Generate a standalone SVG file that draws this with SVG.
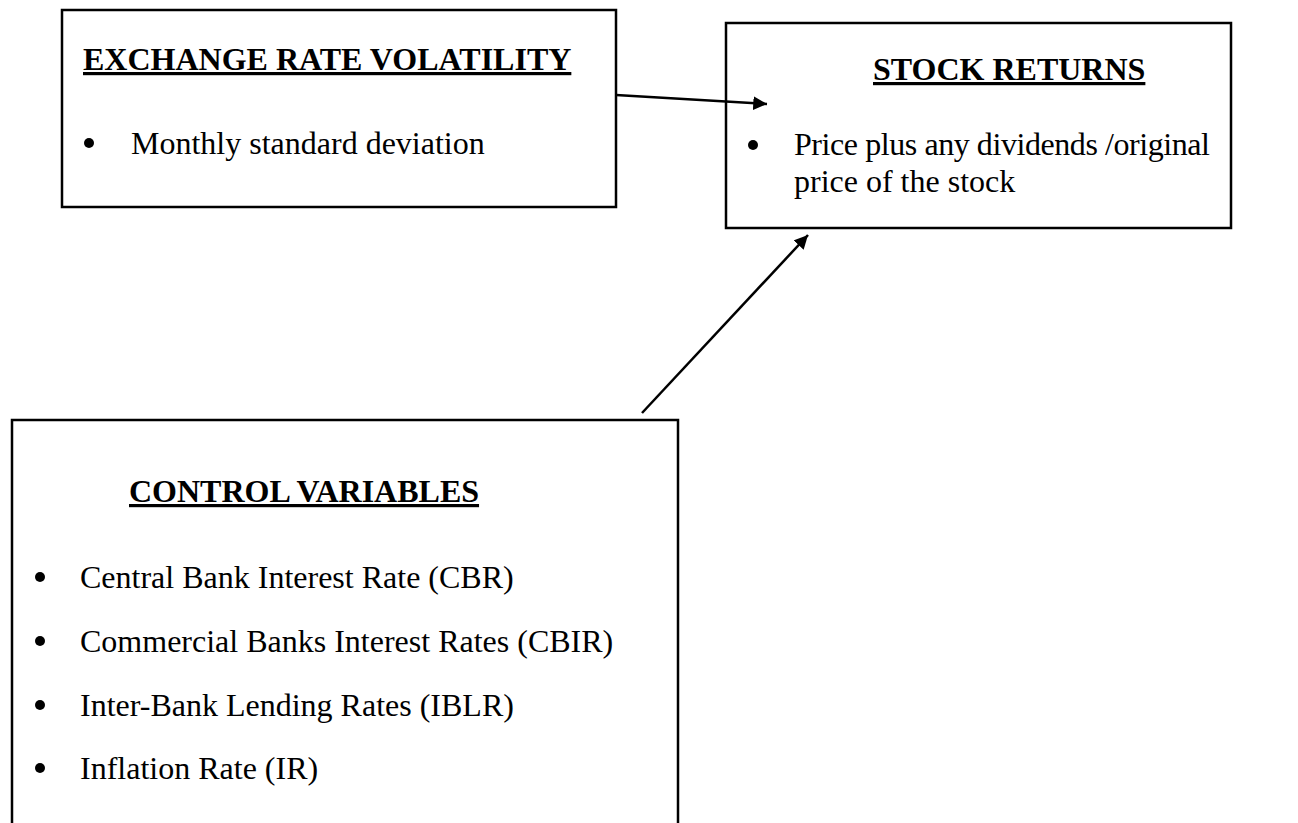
<svg xmlns="http://www.w3.org/2000/svg" width="1298" height="823" viewBox="0 0 1298 823">
<defs>
<style>
.box{fill:#fff;stroke:#000;stroke-width:2.5}
.t{font-family:"Liberation Serif","Times New Roman",serif;font-size:32px;fill:#000}
.h{font-weight:bold;text-decoration:underline}
.con{stroke:#000;stroke-width:2.5;fill:none}
</style>
<marker id="ah" viewBox="0 0 10 10" refX="10" refY="5" markerWidth="5.5" markerHeight="5.5" orient="auto" markerUnits="strokeWidth">
<path d="M0,0 L10,5 L0,10 z" fill="#000"/>
</marker>
</defs>
<rect width="1298" height="823" fill="#fff"/>
<g id="node-erv">
<rect class="box" x="62" y="10" width="554" height="197"/>
<text class="t h" x="83" y="70">EXCHANGE RATE VOLATILITY</text>
<circle cx="89" cy="143" r="5"/>
<text class="t" x="131" y="154">Monthly standard deviation</text>
</g>
<g id="node-sr">
<rect class="box" x="726" y="23" width="505" height="205"/>
<text class="t h" x="873" y="80">STOCK RETURNS</text>
<circle cx="753" cy="145" r="5"/>
<text class="t" x="794" y="155" textLength="416" lengthAdjust="spacing">Price plus any dividends /original</text>
<text class="t" x="794" y="192">price of the stock</text>
</g>
<g id="node-cv">
<rect class="box" x="12" y="420" width="666" height="420"/>
<text class="t h" x="129" y="502">CONTROL VARIABLES</text>
<circle cx="40" cy="577" r="5"/>
<text class="t" x="80" y="588">Central Bank Interest Rate (CBR)</text>
<circle cx="40" cy="641" r="5"/>
<text class="t" x="80" y="652">Commercial Banks Interest Rates (CBIR)</text>
<circle cx="40" cy="705" r="5"/>
<text class="t" x="80" y="716">Inter-Bank Lending Rates (IBLR)</text>
<circle cx="40" cy="768" r="5"/>
<text class="t" x="80" y="779">Inflation Rate (IR)</text>
</g>
<g id="connectors">
<path class="con" d="M616,95 L767,104" marker-end="url(#ah)"/>
<path class="con" d="M642,413 L808,235" marker-end="url(#ah)"/>
</g>
</svg>
